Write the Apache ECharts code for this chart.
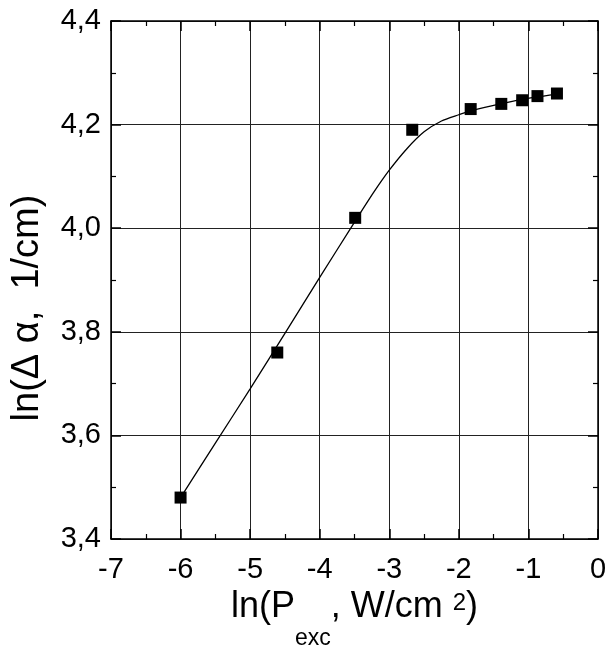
<!DOCTYPE html>
<html>
<head>
<meta charset="utf-8">
<script src="https://cdn.jsdelivr.net/npm/echarts@6/dist/echarts.min.js"></script>
<style>html,body{margin:0;padding:0;background:#fff}#c{width:608px;height:651px}</style>
</head>
<body>
<div id="c"></div>
<script>
// Measured data (squares)
var dataX = [-6.0, -4.61, -3.49, -2.67, -1.83, -1.39, -1.09, -0.87, -0.59];
var dataY = [3.48, 3.76, 4.02, 4.19, 4.23, 4.24, 4.247, 4.255, 4.26];
// Fit curve
var fitX = [-6.0, -5.5, -5.0, -4.5, -4.0, -3.54, -3.23, -3.0, -2.75, -2.5, -2.25, -2.0, -1.84, -1.5, -1.2, -0.9, -0.59];
var fitY = [3.48, 3.585, 3.69, 3.797, 3.905, 4.003, 4.068, 4.112, 4.153, 4.186, 4.207, 4.219, 4.226, 4.237, 4.246, 4.253, 4.259];
var xTicks = [-7, -6, -5, -4, -3, -2, -1, 0];
var yTicks = [3.4, 3.6, 3.8, 4.0, 4.2, 4.4];
var yTitle = 'ln(\u0394 \u03b1,  1/cm)';
// x title pieces: text and role (main / sub / sup)
var xTitleParts = [['ln(P', 'main'], ['exc', 'sub'], [', W/cm ', 'main'], ['2', 'sup'], [')', 'main']];

var fontFam = 'Liberation Sans, Arial, sans-serif';
function pairs(a, b) { return a.map(function (v, i) { return [v, b[i]]; }); }
function fmtY(v) { return v.toFixed(1).replace('.', ','); }

// styles for x-title roles: font size and vertical centre (px)
var roleStyle = { main: { size: 36, cy: 607 }, sub: { size: 23, cy: 639 }, sup: { size: 24, cy: 603 } };
var ctx = document.createElement('canvas').getContext('2d');
function measure(t, s) { ctx.font = s + 'px "Liberation Sans", Arial, sans-serif'; return ctx.measureText(t).width; }
var totalW = 0;
xTitleParts.forEach(function (p) { totalW += measure(p[0], roleStyle[p[1]].size); });
var plotCx = (111 + 598) / 2;
var cursor = plotCx - totalW / 2;
var graphics = [];
xTitleParts.forEach(function (p) {
  var st = roleStyle[p[1]];
  graphics.push({ type: 'text', x: cursor, y: st.cy,
    style: { text: p[0], fontSize: st.size, fontFamily: fontFam, fill: '#000', align: 'left', verticalAlign: 'middle' } });
  cursor += measure(p[0], st.size);
});
graphics.push({
  type: 'text', x: 28, y: 308, rotation: Math.PI / 2,
  style: { text: yTitle, fontSize: 38, fontFamily: fontFam, fill: '#000', align: 'center', verticalAlign: 'middle' }
});

var axisCommon = {
  axisLine: { show: true, onZero: false, lineStyle: { color: '#000', width: 1.5 } },
  axisTick: { show: true, inside: true, length: 10, lineStyle: { color: '#000', width: 1.5 } },
  minorTick: { show: true, splitNumber: 2, length: 5, lineStyle: { color: '#000', width: 1.2 } }
};

var chart = echarts.init(document.getElementById('c'), null, { renderer: 'canvas' });
chart.setOption({
  backgroundColor: '#fff',
  animation: false,
  grid: { left: 111, right: 10, top: 21, bottom: 112, containLabel: false, outerBoundsMode: 'none' },
  xAxis: [
    Object.assign({
      type: 'value', min: xTicks[0], max: xTicks[xTicks.length - 1], interval: 1,
      axisLabel: { color: '#000', fontSize: 29, fontFamily: fontFam, margin: 16,
        formatter: function (v) { return String(v); } },
      splitLine: { show: true, lineStyle: { color: '#222', width: 1 } }
    }, axisCommon),
    Object.assign({
      type: 'value', position: 'top', min: xTicks[0], max: xTicks[xTicks.length - 1], interval: 1,
      axisLabel: { show: false }, splitLine: { show: false }
    }, axisCommon)
  ],
  yAxis: [
    Object.assign({
      type: 'value', min: yTicks[0], max: yTicks[yTicks.length - 1], interval: 0.2,
      axisLabel: { color: '#000', fontSize: 29, fontFamily: fontFam, margin: 10, formatter: fmtY },
      splitLine: { show: true, lineStyle: { color: '#222', width: 1 } }
    }, axisCommon),
    Object.assign({
      type: 'value', position: 'right', min: yTicks[0], max: yTicks[yTicks.length - 1], interval: 0.2,
      axisLabel: { show: false }, splitLine: { show: false }
    }, axisCommon)
  ],
  graphic: graphics,
  series: [
    {
      type: 'line', data: pairs(fitX, fitY), smooth: 0.25, showSymbol: false, symbol: 'none',
      lineStyle: { color: '#000', width: 1.3 }, z: 2
    },
    {
      type: 'scatter', data: pairs(dataX, dataY), symbol: 'rect', symbolSize: 12,
      itemStyle: { color: '#000', opacity: 1 }, z: 3
    }
  ]
});
</script>
</body>
</html>
